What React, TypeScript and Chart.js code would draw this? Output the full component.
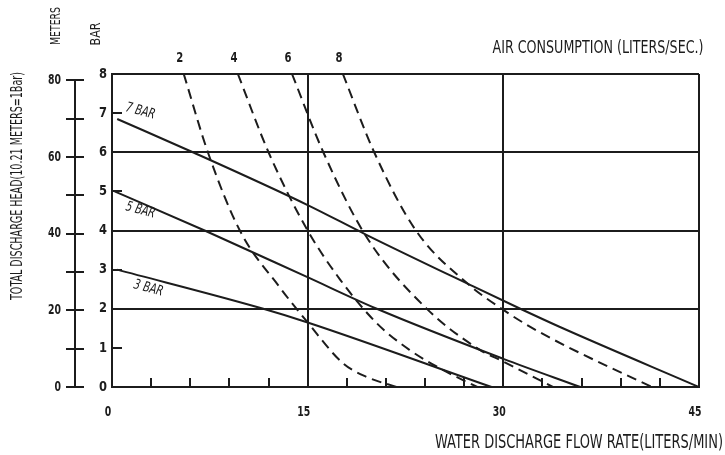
import React, { useEffect, useRef } from "react";
import { Chart, registerables } from "chart.js";

Chart.register(...registerables);

// ---- data ----
const flowLabels = [0, 15, 30, 45];
const barLabels = [0, 1, 2, 3, 4, 5, 6, 7, 8];
const minorFlowTicks = [3, 6, 9, 12, 18, 21, 24, 27, 33, 36, 39, 42];
const minorBarTicks = [1, 3, 5, 7];
const meterTicks = [0, 10, 20, 30, 40, 50, 60, 70, 80];
const meterLabels = [0, 20, 40, 60, 80];
const metersPerBar = 10.21;

const bar7Flow = [0.4, 6.2, 15, 19.5, 27.7, 31.3, 34.3, 45];
const bar7Head = [6.85, 6.0, 4.65, 3.89, 2.57, 2.0, 1.54, 0];
const bar5Flow = [0.2, 7.1, 14.9, 20.3, 30, 35.9];
const bar5Head = [5.0, 4.0, 2.82, 2.0, 0.72, 0];
const bar3Flow = [0.4, 11.6, 15, 29.1];
const bar3Head = [3.0, 2.0, 1.65, 0];

const air2Flow = [5.5, 7.35, 9.8, 12.9, 15, 17.7, 19.5, 21.8];
const air2Head = [8, 6, 4, 2.53, 1.65, 0.61, 0.26, 0];
const air4Flow = [9.65, 12, 15, 17.5, 20.3, 22.8, 25.4, 28];
const air4Head = [8, 6, 4, 2.74, 1.63, 0.95, 0.43, 0];
const air6Flow = [13.8, 16.2, 19.5, 24.1, 28.2, 30, 33.8];
const air6Head = [8, 6, 3.84, 2.01, 0.95, 0.65, 0];
const air8Flow = [17.7, 20.1, 23.3, 27.3, 30, 32, 34.9, 41.4];
const air8Head = [8, 6, 4, 2.63, 1.97, 1.55, 1.03, 0];

const solidSeries = [
  { name: "7 BAR", flow: bar7Flow, head: bar7Head },
  { name: "5 BAR", flow: bar5Flow, head: bar5Head },
  { name: "3 BAR", flow: bar3Flow, head: bar3Head },
];
const airSeries = [
  { name: "2", flow: air2Flow, head: air2Head },
  { name: "4", flow: air4Flow, head: air4Head },
  { name: "6", flow: air6Flow, head: air6Head },
  { name: "8", flow: air8Flow, head: air8Head },
];

const INK = "#1c1c1c";
const FONT = '"Liberation Sans Narrow", "DejaVu Sans Condensed", "DejaVu Sans", sans-serif';

const toPoints = (xs: number[], ys: number[]) => xs.map((x, i) => ({ x, y: ys[i] }));

const textPlugin = {
  id: "cadText",
  afterDraw(chart: any) {
    const ctx = chart.ctx as CanvasRenderingContext2D;
    const xs = chart.scales.x;
    const ys = chart.scales.y;
    ctx.save();
    ctx.fillStyle = INK;
    ctx.strokeStyle = INK;
    ctx.lineWidth = 2;
    const line = (x1: number, y1: number, x2: number, y2: number) => {
      ctx.beginPath();
      ctx.moveTo(x1, y1);
      ctx.lineTo(x2, y2);
      ctx.stroke();
    };
    // minor ticks inside the plot
    minorFlowTicks.forEach((v) => {
      const px = Math.round(xs.getPixelForValue(v));
      line(px, ys.bottom, px, ys.bottom - 9);
    });
    minorBarTicks.forEach((v) => {
      const py = Math.round(ys.getPixelForValue(v));
      line(xs.left, py, xs.left + 10, py);
    });

    // bar labels
    ctx.font = "bold 14px " + FONT;
    ctx.textAlign = "center";
    ctx.textBaseline = "middle";
    barLabels.forEach((v) => {
      ctx.fillText(String(v), 103, ys.getPixelForValue(v), 8);
    });

    // meters axis
    const mx = 75;
    line(mx, ys.getPixelForValue(80 / metersPerBar), mx, ys.getPixelForValue(0) + 1);
    meterTicks.forEach((m) => {
      const py = Math.round(ys.getPixelForValue(m / metersPerBar));
      line(66, py, 84, py);
    });
    meterLabels.forEach((m) => {
      const py = ys.getPixelForValue(m / metersPerBar);
      const s = String(m);
      ctx.textAlign = "right";
      ctx.fillText(s, 61, py, s.length * 6.5);
    });

    // flow labels
    ctx.textAlign = "center";
    flowLabels.forEach((v) => {
      const s = String(v);
      ctx.fillText(s, xs.getPixelForValue(v) - 4, 412, s.length * 6.5);
    });

    // air consumption labels on top
    airSeries.forEach((s) => {
      ctx.fillText(s.name, xs.getPixelForValue(s.flow[0]) - 4, 58, 7);
    });

    // titles
    ctx.font = "20px " + FONT;
    ctx.fillText("WATER DISCHARGE FLOW RATE(LITERS/MIN)", 579, 443, 288);
    ctx.font = "18px " + FONT;
    ctx.fillText("AIR CONSUMPTION (LITERS/SEC.)", 598, 48, 211);

    const vtext = (t: string, x: number, y: number, w: number, size: number) => {
      ctx.save();
      ctx.translate(x, y);
      ctx.rotate(-Math.PI / 2);
      ctx.font = size + "px " + FONT;
      ctx.fillText(t, 0, 0, w);
      ctx.restore();
    };
    vtext("TOTAL DISCHARGE HEAD(10.21 METERS=1Bar)", 18, 186, 228, 15);
    vtext("METERS", 56, 26, 38, 14);
    vtext("BAR", 96, 34, 23, 14);

    // curve labels
    const ctext = (t: string, x: number, y: number) => {
      ctx.save();
      ctx.translate(x, y);
      ctx.rotate((15 * Math.PI) / 180);
      ctx.font = "italic 14px " + FONT;
      ctx.textAlign = "left";
      ctx.textBaseline = "alphabetic";
      ctx.fillText(t, 0, 0, 30);
      ctx.restore();
    };
    ctext("7 BAR", 125, 111);
    ctext("5 BAR", 125, 210);
    ctext("3 BAR", 133, 288);
    ctx.restore();
  },
};

export default function App() {
  const ref = useRef<HTMLCanvasElement | null>(null);
  useEffect(() => {
    if (!ref.current) return;
    const datasets: any[] = [];
    solidSeries.forEach((s) =>
      datasets.push({
        label: s.name,
        data: toPoints(s.flow, s.head),
        borderColor: INK,
        borderWidth: 2,
        showLine: true,
        pointRadius: 0,
        fill: false,
        cubicInterpolationMode: "monotone",
      })
    );
    airSeries.forEach((s) =>
      datasets.push({
        label: s.name,
        data: toPoints(s.flow, s.head),
        borderColor: INK,
        borderWidth: 2,
        borderDash: [10, 6],
        showLine: true,
        pointRadius: 0,
        fill: false,
        cubicInterpolationMode: "monotone",
      })
    );
    const chart = new Chart(ref.current, {
      type: "scatter",
      data: { datasets },
      options: {
        animation: false,
        responsive: false,
        maintainAspectRatio: false,
        layout: { padding: { left: 112, top: 74, right: 26, bottom: 68 } },
        plugins: { legend: { display: false }, tooltip: { enabled: false } },
        scales: {
          x: {
            type: "linear",
            min: 0,
            max: 45,
            ticks: { display: false, stepSize: 15 },
            grid: { color: INK, lineWidth: 2, drawTicks: false },
            border: { display: true, color: INK, width: 2 },
          },
          y: {
            type: "linear",
            min: 0,
            max: 8,
            ticks: { display: false, stepSize: 2 },
            grid: { color: INK, lineWidth: 2, drawTicks: false },
            border: { display: true, color: INK, width: 2 },
          },
        },
      },
      plugins: [textPlugin],
    });
    return () => chart.destroy();
  }, []);
  return (
    <div style={{ position: "absolute", left: 0, top: 0, width: 725, height: 455, background: "#fff" }}>
      <canvas ref={ref} width={725} height={455} style={{ display: "block" }} />
    </div>
  );
}
